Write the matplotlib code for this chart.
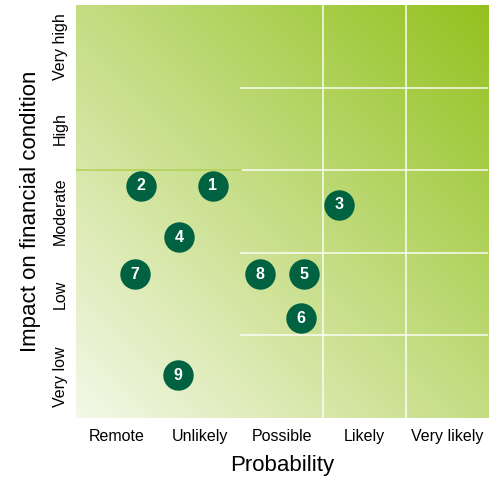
import numpy as np
import matplotlib.pyplot as plt
from matplotlib.colors import LinearSegmentedColormap

plt.rcParams['font.family'] = ['Liberation Sans', 'DejaVu Sans']

# Axis categories
prob_labels = ["Remote", "Unlikely", "Possible", "Likely", "Very likely"]
impact_labels = ["Very low", "Low", "Moderate", "High", "Very high"]

# Risk items (position in grid units, 0-5 on each axis)
risk_ids = [1, 2, 3, 4, 5, 6, 7, 8, 9]
risk_prob = [1.66, 0.79, 3.19, 1.25, 2.77, 2.73, 0.72, 2.23, 1.24]
risk_impact = [2.81, 2.81, 2.58, 2.19, 1.74, 1.21, 1.74, 1.74, 0.52]

fig = plt.figure(figsize=(4.96, 4.78), dpi=100)
ax = fig.add_axes([0.153, 0.1255, 0.831, 0.864])

# Diagonal gradient background
cmap = LinearSegmentedColormap.from_list(
    "risk", ["#f4f8e8", "#d5e6a4", "#b3d462", "#95c11f"])
gx, gy = np.meshgrid(np.linspace(0, 1, 300), np.linspace(0, 1, 300))
grad = (gx + gy) / 2
ax.imshow(grad, cmap=cmap, extent=[0, 5, 0, 5], origin="lower",
          aspect="auto", interpolation="bicubic", zorder=0)

# Grid lines (right part white, faint green divider on the left)
for v in [3, 4]:
    ax.plot([v, v], [0, 5], color="white", lw=1.2, alpha=0.85, zorder=1)
for h in [1, 2, 3, 4]:
    ax.plot([2, 5], [h, h], color="white", lw=1.2, alpha=0.85, zorder=1)
ax.plot([0, 2], [3, 3], color="#b2d35a", lw=1.2, zorder=1)

# Risk bubbles
ax.scatter(risk_prob, risk_impact, s=480, color="#006241", zorder=3,
           linewidths=0)
for rid, px, py in zip(risk_ids, risk_prob, risk_impact):
    ax.text(px, py, str(rid), color="white", fontsize=11.5, fontweight="bold",
            ha="center", va="center", zorder=4)

ax.set_xlim(0, 5)
ax.set_ylim(0, 5)
ax.set_xticks(np.arange(5) + 0.5)
ax.set_xticklabels(prob_labels, fontsize=11.5)
ax.set_yticks(np.arange(5) + 0.5)
ax.set_yticklabels(impact_labels, fontsize=11.5, rotation=90, va="center")
ax.tick_params(axis="x", length=0, pad=8)
ax.tick_params(axis="y", length=0, pad=6)
for s in ax.spines.values():
    s.set_visible(False)

ax.set_xlabel("Probability", fontsize=16, labelpad=8)
ax.set_ylabel("Impact on financial condition", fontsize=16, labelpad=8)

fig.savefig("out.png", dpi=100)
